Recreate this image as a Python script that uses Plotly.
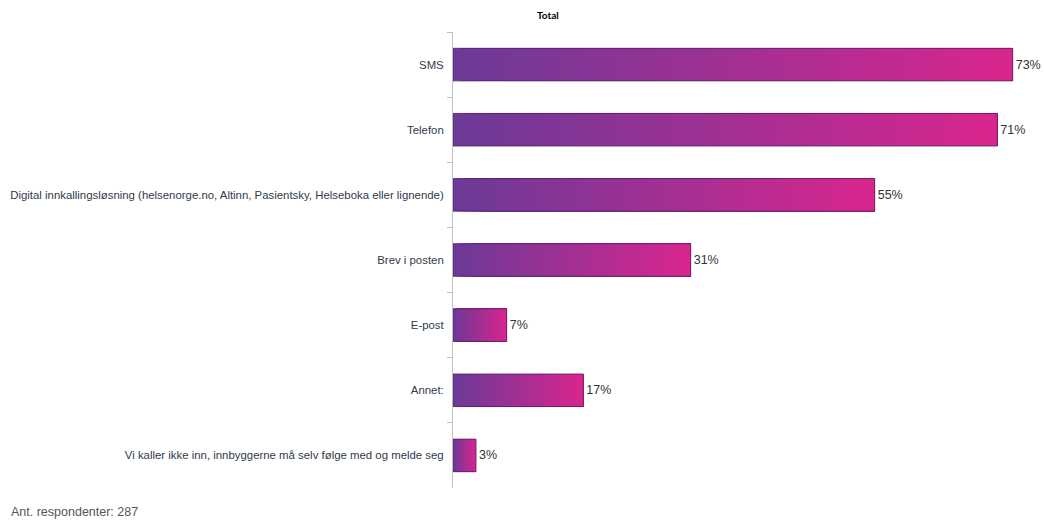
import plotly.graph_objects as go

categories = [
    "SMS",
    "Telefon",
    "Digital innkallingsløsning (helsenorge.no, Altinn, Pasientsky, Helseboka eller lignende)",
    "Brev i posten",
    "E-post",
    "Annet:",
    "Vi kaller ikke inn, innbyggerne må selv følge med og melde seg",
]
values = [73, 71, 55, 31, 7, 17, 3]
labels = ["73%", "71%", "55%", "31%", "7%", "17%", "3%"]
title_text = "Total"
footer_text = "Ant. respondenter: 287"

c0 = (108, 58, 152)
c1 = (216, 38, 142)
N = 80

fig = go.Figure()
for k in range(N):
    t = k / (N - 1)
    col = "rgb(%d,%d,%d)" % tuple(round(a + (b - a) * t) for a, b in zip(c0, c1))
    fig.add_trace(go.Bar(
        y=categories,
        x=[v * (N - k) / N for v in values],
        base=[v * k / N for v in values],
        orientation="h",
        marker=dict(color=col, line=dict(width=0)),
        width=0.5,
        hoverinfo="skip",
        showlegend=False,
    ))

fig.add_trace(go.Bar(
    y=categories,
    x=values,
    orientation="h",
    marker=dict(color="rgba(0,0,0,0)", line=dict(color="rgba(80,30,100,0.8)", width=1)),
    width=0.5,
    text=labels,
    textposition="outside",
    textfont=dict(family="Liberation Sans, Arial", size=12.5, color="#333333"),
    cliponaxis=False,
    showlegend=False,
))

L, R, T, B = 453, 6, 32, 33
W, H = 1044, 521
pw = W - L - R
ph = H - T - B


def px_x(x):
    return (x - L) / pw


def px_y(y):
    return (H - B - y) / ph


fig.update_layout(
    width=W,
    height=H,
    barmode="overlay",
    plot_bgcolor="white",
    paper_bgcolor="white",
    margin=dict(l=L, r=R, t=T, b=B),
    xaxis=dict(range=[0, 76.3], visible=False),
    yaxis=dict(
        autorange="reversed",
        showline=True,
        linecolor="#c0c0c0",
        linewidth=1,
        ticks="outside",
        tickson="boundaries",
        ticklen=5,
        tickcolor="#c0c0c0",
        ticklabelstandoff=6,
        tickfont=dict(family="Liberation Sans, Arial", size=11.4, color="#2f3a4a"),
        showgrid=False,
    ),
    annotations=[
        dict(text="<b>" + title_text + "</b>", x=px_x(548), y=px_y(15), xref="paper", yref="paper",
             xanchor="center", yanchor="middle", showarrow=False,
             font=dict(family="Lato, Open Sans", size=10, color="#000000")),
        dict(text=footer_text, x=px_x(9), y=px_y(521), xref="paper", yref="paper",
             xanchor="left", yanchor="bottom", showarrow=False,
             font=dict(family="Liberation Sans, Arial", size=12.5, color="#555555")),
    ],
)

fig.write_html("out.html")
